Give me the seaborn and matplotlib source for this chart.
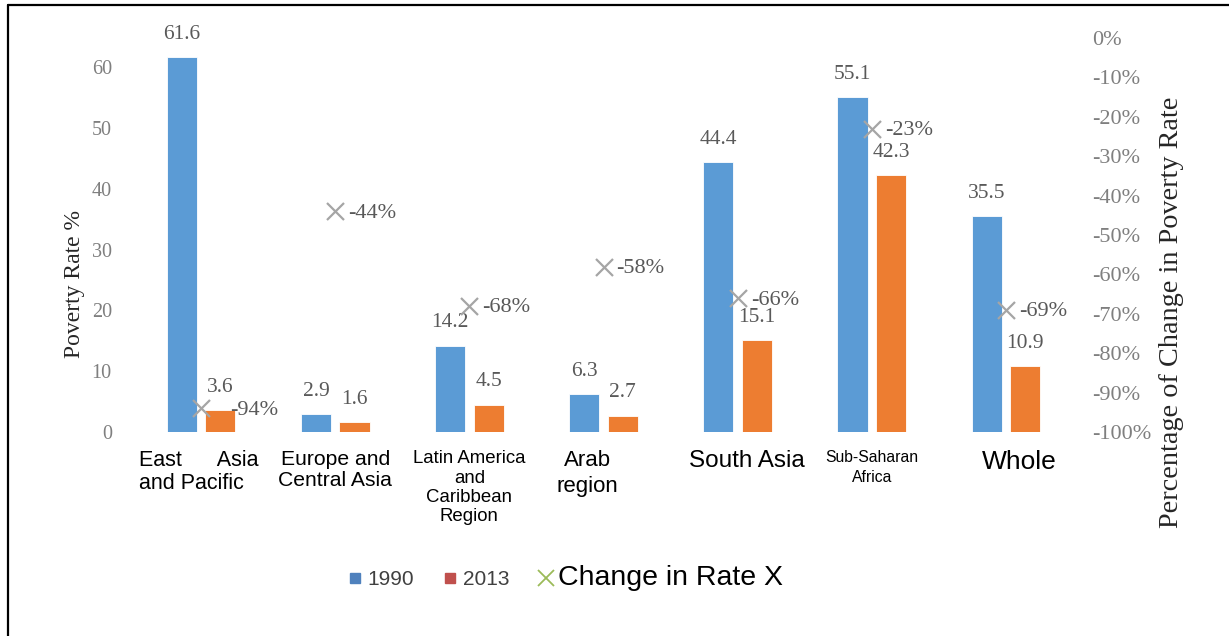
import numpy as np
import pandas as pd
import matplotlib
matplotlib.use("Agg")
import matplotlib.pyplot as plt
import matplotlib.transforms as mtransforms
from matplotlib.lines import Line2D
import seaborn as sns

# ---------------- data ----------------
regions = ["East Asia and Pacific", "Europe and Central Asia",
           "Latin America and Caribbean Region", "Arab region",
           "South Asia", "Sub-Saharan Africa", "Whole"]
tick_labels = ["East      Asia\nand Pacific", "Europe and\nCentral Asia",
               "Latin America\nand\nCaribbean\nRegion", "Arab\nregion",
               "South Asia", "Sub-Saharan\nAfrica", "Whole"]
rate_1990 = [61.6, 2.9, 14.2, 6.3, 44.4, 55.1, 35.5]
rate_2013 = [3.6, 1.6, 4.5, 2.7, 15.1, 42.3, 10.9]
change_pct = [-94, -44, -68, -58, -66, -23, -69]
years = ["1990", "2013"]
right_ticks = [0, -10, -20, -30, -40, -50, -60, -70, -80, -90, -100]

# ---------------- styles ----------------
BLUE = "#5B9BD5"
ORANGE = "#ED7D31"
GREY_X = "#A5A5A5"
LEG_BLUE = "#4F81BD"
LEG_RED = "#C0504D"
LEG_GREEN = "#9BBB59"
label_sizes = [15.5, 15.2, 13.4, 16, 17.5, 11.3, 19]
label_spacing = [1.14, 1.1, 1.19, 1.3, 1.1, 1.45, 1.1]
label_dx = [-2, 0, 0, -16, 9, 0, 13]          # pixel offsets of category labels
label_align = ["left", "center", "center", "center", "center", "center", "center"]
change_dx = [29, 13, 13, 13, 13, 13, 13]       # pixel offsets of change labels

sns.set_theme(style="white")
plt.rcParams["font.family"] = ["Liberation Serif", "DejaVu Serif"]

df = pd.DataFrame({
    "region": regions * 2,
    "year": [years[0]] * len(regions) + [years[1]] * len(regions),
    "rate": rate_1990 + rate_2013,
})

W, H = 1229, 636
fig = plt.figure(figsize=(W / 100, H / 100), dpi=100)
ax = fig.add_axes([134 / W, (H - 432) / H, 939 / W, 394 / H])

sns.barplot(data=df, x="region", y="rate", hue="year", hue_order=years,
            order=regions, palette=[BLUE, ORANGE], saturation=1, width=0.575, gap=0.22,
            ax=ax, legend=False, edgecolor="white", linewidth=0.6)
ax.set_xlim(-0.5, len(regions) - 0.5)
ax.set_ylim(0, 64.8)
ax.set_yticks([0, 10, 20, 30, 40, 50, 60])
ax.tick_params(axis="y", length=0, pad=16, labelsize=14.5, labelcolor="#7F7F7F")
ax.tick_params(axis="x", length=0, pad=13)
for s in ax.spines.values():
    s.set_visible(False)

ax.set_xlabel("")
ax.set_ylabel("Poverty Rate %", fontsize=17, color="#262626")
ax.yaxis.set_label_coords(-0.052, 0.376)

# bar labels
for cont in ax.containers:
    ax.bar_label(cont, fmt="%.1f", padding=9.5, fontsize=15.5, color="#595959")

# category labels
ax.set_xticks(range(len(regions)))
ax.set_xticklabels(tick_labels, family=["Liberation Sans", "DejaVu Sans"], color="black")
for lab, fs, ls, dx, al in zip(ax.get_xticklabels(), label_sizes, label_spacing, label_dx, label_align):
    lab.set_fontsize(fs)
    lab.set_multialignment(al)
    lab.set_linespacing(ls)
    lab.set_transform(lab.get_transform() + mtransforms.ScaledTranslation(dx / 100, 0, fig.dpi_scale_trans))

# secondary axis: change
ax2 = ax.twinx()
xpos = np.arange(len(regions))
chg = np.array(change_pct) / 100.0
sns.scatterplot(x=xpos, y=chg, marker="x", s=150, color=GREY_X, linewidth=1.6, ax=ax2, legend=False)
ax2.set_ylim(-1.0, 0.0)
ax2.set_yticks(np.array(right_ticks) / 100.0)
ax2.set_yticklabels([f"{t}%" for t in right_ticks])
ax2.tick_params(axis="y", length=0, pad=14, labelsize=16, labelcolor="#7F7F7F")
for s in ax2.spines.values():
    s.set_visible(False)
ax2.set_ylabel("Percentage of Change in Poverty Rate", fontsize=20.3, color="#262626")
ax2.yaxis.set_label_coords(1.0916, 0.305)
ax2.grid(False)
ax.grid(False)

for x, v, dx in zip(xpos, chg, change_dx):
    ax2.annotate(f"{int(round(v * 100))}%", (x, v), xytext=(dx, -2), textcoords="offset pixels",
                 ha="left", va="center", fontsize=16, color="#595959")

# legend
handles = [
    Line2D([], [], marker="s", linestyle="none", color=LEG_BLUE, markersize=6.5),
    Line2D([], [], marker="s", linestyle="none", color=LEG_RED, markersize=6.5),
    Line2D([], [], marker="x", linestyle="none", color=LEG_GREEN, markersize=11, markeredgewidth=1.3),
]
leg = fig.legend(handles, ["1990", "2013", "Change in Rate X"], loc="center",
                 bbox_to_anchor=(566 / W, 58 / H), ncol=3, frameon=False,
                 handlelength=0.6, handletextpad=0.3, columnspacing=1.45,
                 prop={"family": ["Liberation Sans", "DejaVu Sans"], "size": 15})
texts = leg.get_texts()
texts[0].set_color("#404040")
texts[1].set_color("#404040")
texts[2].set_fontsize(20.5)
texts[2].set_color("black")

# partial frame around the figure (left and top)
fig.add_artist(Line2D([8 / W, 8 / W], [0, 1 - 5 / H], transform=fig.transFigure, color="black", lw=1.6))
fig.add_artist(Line2D([8 / W, 1], [1 - 5 / H, 1 - 5 / H], transform=fig.transFigure, color="black", lw=1.6))

fig.savefig("out.png", dpi=100)
